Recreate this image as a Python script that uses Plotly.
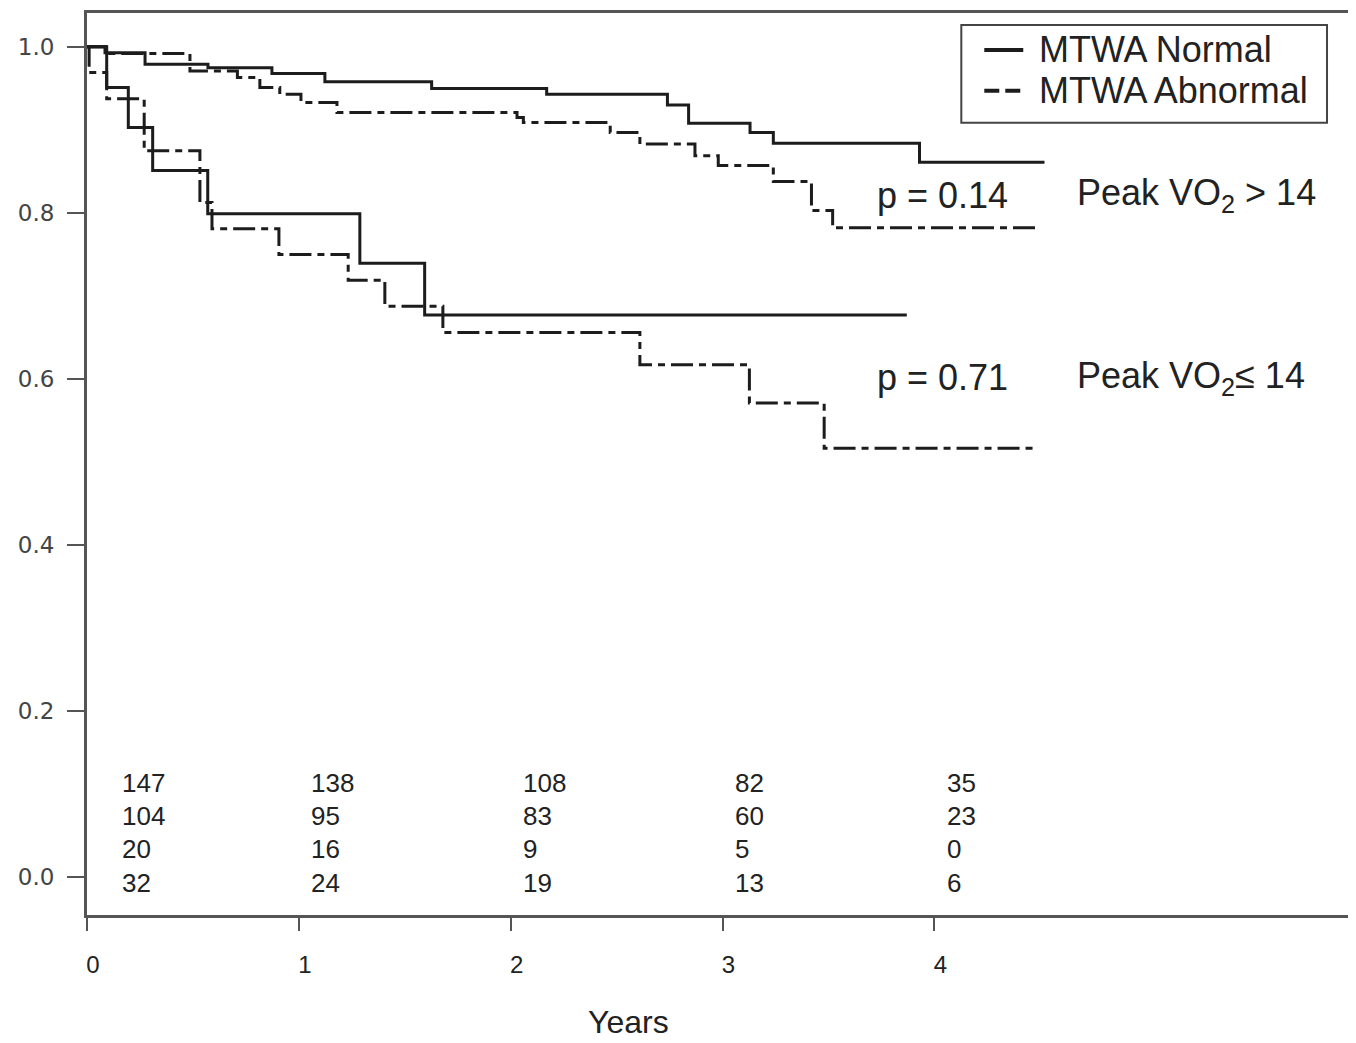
import plotly.graph_objects as go

# ---- data ----
normal_hi_t = [0, 0.085, 0.274, 0.571, 0.873, 1.123, 1.627, 2.17, 2.74, 2.84, 3.13, 3.24, 3.93, 4.52]
normal_hi_s = [1.0, 0.993, 0.979, 0.975, 0.968, 0.958, 0.950, 0.943, 0.930, 0.908, 0.897, 0.884, 0.861, 0.861]

abnormal_hi_t = [0, 0.09, 0.486, 0.71, 0.816, 0.91, 1.01, 1.18, 2.03, 2.06, 2.47, 2.61, 2.87, 2.98, 3.24, 3.42, 3.52, 4.48]
abnormal_hi_s = [1.0, 0.992, 0.971, 0.963, 0.951, 0.943, 0.933, 0.921, 0.915, 0.909, 0.897, 0.883, 0.869, 0.857, 0.838, 0.803, 0.782, 0.782]

normal_lo_t = [0, 0.093, 0.195, 0.31, 0.57, 1.288, 1.594, 3.87]
normal_lo_s = [1.0, 0.951, 0.903, 0.851, 0.799, 0.7395, 0.677, 0.677]

abnormal_lo_t = [0, 0.01, 0.093, 0.27, 0.533, 0.59, 0.906, 1.233, 1.406, 1.68, 2.61, 3.127, 3.48, 4.47]
abnormal_lo_s = [1.0, 0.969, 0.9375, 0.875, 0.8125, 0.781, 0.750, 0.719, 0.6875, 0.656, 0.617, 0.571, 0.5165, 0.5165]

risk_times = [0, 1, 2, 3, 4]
risk_rows = [
    [147, 138, 108, 82, 35],
    [104, 95, 83, 60, 23],
    [20, 16, 9, 5, 0],
    [32, 24, 19, 13, 6],
]

x_ticks = [0, 1, 2, 3, 4]
y_ticks = [0.0, 0.2, 0.4, 0.6, 0.8, 1.0]

legend_names = ["MTWA Normal", "MTWA Abnormal"]
p_labels = ["p = 0.14", "p = 0.71"]
group_labels = ["Peak VO<sub>2</sub> > 14", "Peak VO<sub>2</sub>≤ 14"]
group_label_y = [0.821, 0.6014]

# ---- style ----
INK = "#1c1c1c"
FONT = "Liberation Sans"
DASH = "22px,6px,7px,6px"
LEG_DASH = "15px,6px"
LW = 3

# page body has an 8px margin; size the figure so the plot area lands where the reference has it
W, H = 1348, 1035
ML, MR, MT, MB = 79, 4, 2, 128
PW, PH = W - ML - MR, H - MT - MB


def px_to_paper_x(px):
    return (px - 8 - ML) / PW


def px_to_paper_y(py):
    return (H - MB - (py - 8)) / PH


fig = go.Figure()
curves = [
    (normal_hi_t, normal_hi_s, "solid", legend_names[0]),
    (abnormal_hi_t, abnormal_hi_s, DASH, legend_names[1]),
    (normal_lo_t, normal_lo_s, "solid", legend_names[0]),
    (abnormal_lo_t, abnormal_lo_s, DASH, legend_names[1]),
]
for t, s, dash, name in curves:
    fig.add_trace(go.Scatter(
        x=t, y=s, mode="lines", line=dict(shape="hv", color=INK, width=LW, dash=dash),
        name=name, legendgroup=name, showlegend=False, hoverinfo="x+y",
    ))

annotations = []
shapes = []
# numbers at risk
row_y = [0.113, 0.0732, 0.0336, -0.0072]
for r, row in enumerate(risk_rows):
    for c, val in enumerate(row):
        xpos = risk_times[c] + (0.156 if c == 0 else 0.05)
        annotations.append(dict(
            x=xpos, y=row_y[r], xref="x", yref="y", text=str(val), showarrow=False,
            xanchor="left", yanchor="middle", font=dict(family=FONT, size=26, color="#222"),
        ))
# p-values and group labels
for i in range(2):
    annotations.append(dict(
        x=3.722, y=group_label_y[i], xref="x", yref="y", text=p_labels[i], showarrow=False,
        xanchor="left", yanchor="middle", font=dict(family=FONT, size=36, color="#222"),
    ))
    annotations.append(dict(
        x=4.665, y=group_label_y[i], xref="x", yref="y", text=group_labels[i], showarrow=False,
        xanchor="left", yanchor="middle", font=dict(family=FONT, size=36, color="#222"),
    ))
# x-axis title
annotations.append(dict(
    x=px_to_paper_x(629), y=px_to_paper_y(1022), xref="paper", yref="paper", text="Years",
    showarrow=False, xanchor="center", yanchor="middle",
    font=dict(family=FONT, size=32, color="#222"),
))

# legend box (drawn by hand to match the reference's proportions)
shapes.append(dict(
    type="rect", xref="paper", yref="paper",
    x0=px_to_paper_x(962), x1=px_to_paper_x(1328), y0=px_to_paper_y(120), y1=px_to_paper_y(22),
    line=dict(color="#444", width=2), fillcolor="white", layer="above",
))
leg_rows_y = [47, 88]
leg_dashes = ["solid", LEG_DASH]
for i, name in enumerate(legend_names):
    shapes.append(dict(
        type="line", xref="paper", yref="paper",
        x0=px_to_paper_x(985), x1=px_to_paper_x(1024),
        y0=px_to_paper_y(leg_rows_y[i]), y1=px_to_paper_y(leg_rows_y[i]),
        line=dict(color=INK, width=LW + 1, dash=leg_dashes[i]), layer="above",
    ))
    annotations.append(dict(
        x=px_to_paper_x(1038), y=px_to_paper_y(leg_rows_y[i]), xref="paper", yref="paper",
        text=name, showarrow=False, xanchor="left", yanchor="middle",
        font=dict(family=FONT, size=36, color="#222"),
    ))

fig.update_layout(
    width=W, height=H,
    margin=dict(l=ML, r=MR, t=MT, b=MB),
    paper_bgcolor="white", plot_bgcolor="white",
    showlegend=False,
    annotations=annotations,
    shapes=shapes,
)
fig.update_xaxes(
    range=[0, 5.967], tickmode="array", tickvals=x_ticks, ticktext=[str(v) for v in x_ticks],
    showgrid=False, zeroline=False, showline=True, linecolor="#555", linewidth=3, mirror=True,
    ticks="outside", ticklen=13, tickwidth=2, tickcolor="#555",
    tickfont=dict(family=FONT, size=24, color="#222"), ticklabelshift=6, ticklabelstandoff=13,
)
fig.update_yaxes(
    range=[-0.0456, 1.0408], tickmode="array", tickvals=y_ticks, ticktext=[f"{v:.1f}" for v in y_ticks],
    showgrid=False, zeroline=False, showline=True, linecolor="#555", linewidth=3, mirror=True,
    ticks="outside", ticklen=17, tickwidth=2, tickcolor="#555",
    tickfont=dict(family="DejaVu Sans", size=23, color="#444"), ticklabelstandoff=8,
)

fig.write_html("out.html")
